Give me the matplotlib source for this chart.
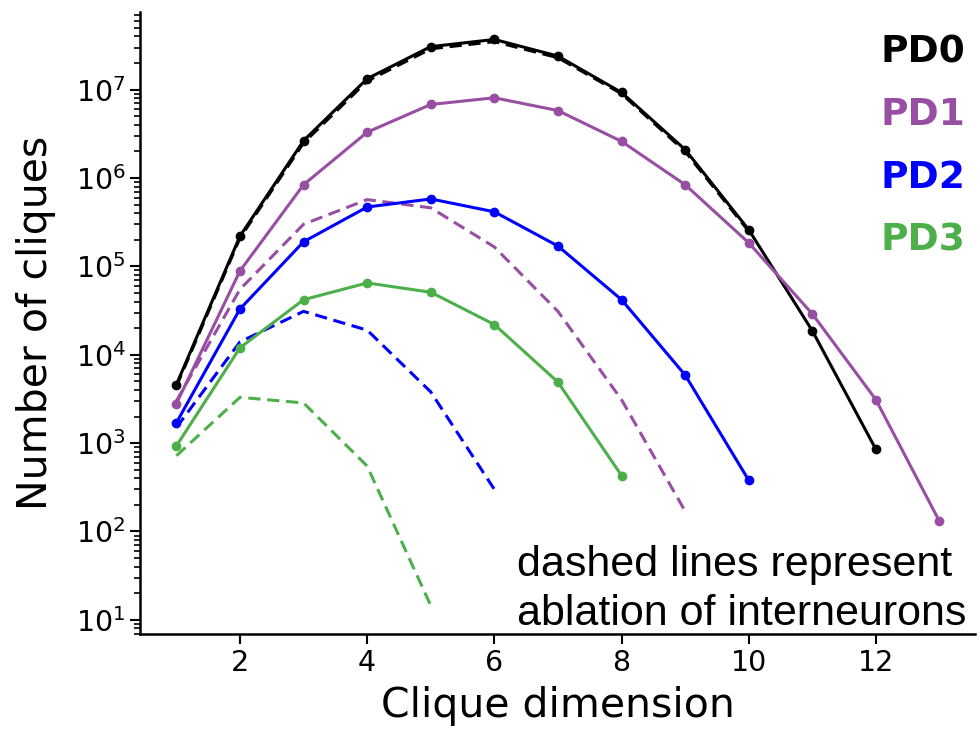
import numpy as np
import matplotlib
matplotlib.use("Agg")
import matplotlib.pyplot as plt

# clique dimension
dims = [1, 2, 3, 4, 5, 6, 7, 8, 9, 10, 11, 12, 13]

# full network (solid)
pd0 = [4.6e3, 2.2e5, 2.65e6, 1.33e7, 3.07e7, 3.7e7, 2.4e7, 9.3e6, 2.1e6, 2.6e5, 1.87e4, 8.5e2]
pd1 = [2.8e3, 8.9e4, 8.4e5, 3.3e6, 6.8e6, 8.1e6, 5.8e6, 2.6e6, 8.4e5, 1.85e5, 2.9e4, 3.1e3, 1.3e2]
pd2 = [1.7e3, 3.3e4, 1.9e5, 4.7e5, 5.8e5, 4.15e5, 1.7e5, 4.2e4, 5.9e3, 3.8e2]
pd3 = [9.3e2, 1.2e4, 4.2e4, 6.5e4, 5.1e4, 2.2e4, 4.9e3, 4.3e2]

# interneurons ablated (dashed)
pd0_abl = [4.4e3, 2.1e5, 2.5e6, 1.25e7, 2.9e7, 3.5e7, 2.3e7, 9.0e6, 2.0e6, 2.5e5]
pd1_abl = [3.0e3, 5.5e4, 3.0e5, 5.7e5, 4.6e5, 1.66e5, 3.1e4, 3.1e3, 1.7e2]
pd2_abl = [1.5e3, 1.4e4, 3.1e4, 1.9e4, 3.8e3, 3.0e2]
pd3_abl = [7.2e2, 3.3e3, 2.85e3, 5.5e2, 14.5]

names = ["PD0", "PD1", "PD2", "PD3"]
colors = ["black", "#984ea3", "#0000ff", "#4daf4a"]
solid = [pd0, pd1, pd2, pd3]
dashed = [pd0_abl, pd1_abl, pd2_abl, pd3_abl]

fig = plt.figure(figsize=(9.8, 7.31), dpi=100)
ax = fig.add_axes([0.143, 0.1327, 0.852, 0.851])

for vals, col in zip(dashed, colors):
    ax.plot(dims[:len(vals)], vals, color=col, linestyle="--", linewidth=2.2,
            dashes=(4, 2.2))
for vals, col in zip(solid, colors):
    ax.plot(dims[:len(vals)], vals, color=col, linestyle="-", linewidth=2.2,
            marker="o", markersize=6)

ax.set_yscale("log")
ax.set_xlim(0.43, 13.56)
ax.set_ylim(10**0.84, 10**7.88)
ax.set_xticks([2, 4, 6, 8, 10, 12])
ax.tick_params(axis="both", which="major", labelsize=20.5, length=7, width=1.5)
ax.tick_params(axis="y", which="minor", length=4, width=1.2)
ax.spines["top"].set_visible(False)
ax.spines["right"].set_visible(False)
ax.spines["left"].set_linewidth(1.8)
ax.spines["bottom"].set_linewidth(1.8)

ax.set_xlabel("Clique dimension", fontsize=29.5, labelpad=7)
ax.set_ylabel("Number of cliques", fontsize=29.5, labelpad=14)

ys = [0.934, 0.834, 0.733, 0.633]
for name, col, y in zip(names, colors, ys):
    ax.text(0.988, y, name, color=col, fontsize=27, fontweight="bold",
            ha="right", va="center", transform=ax.transAxes)

ax.text(0.451, 0.0, "dashed lines represent\nablation of interneurons",
        fontsize=31, family="Liberation Sans", ha="left", va="bottom",
        transform=ax.transAxes, linespacing=1.3)

plt.savefig("out.png", dpi=100)
